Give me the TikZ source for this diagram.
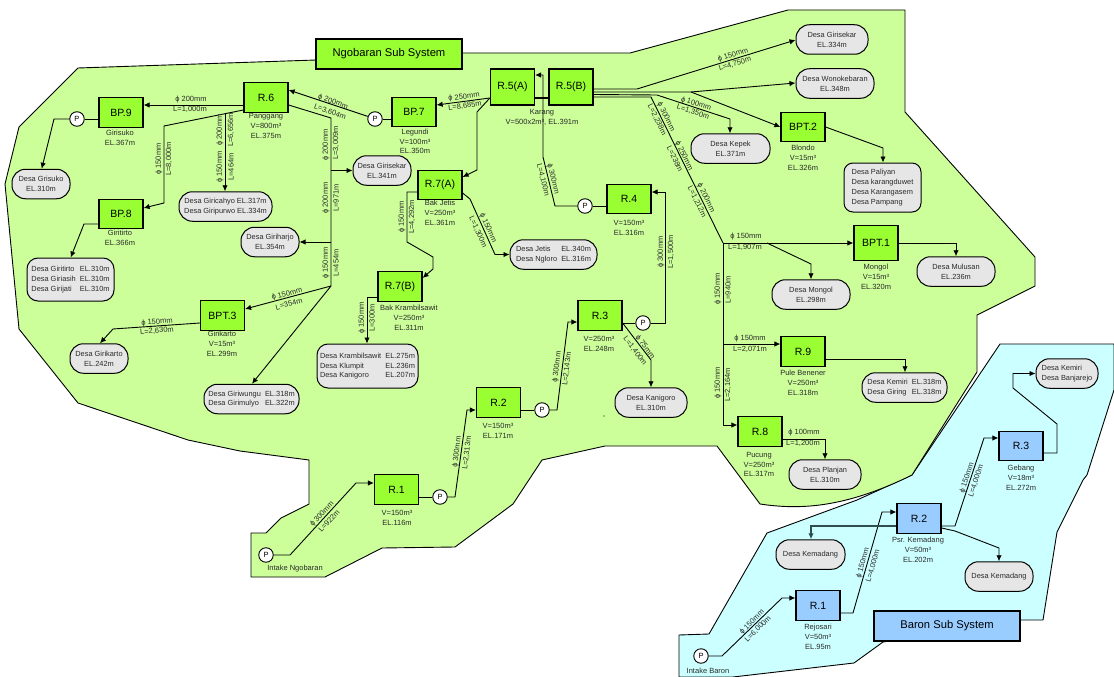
\documentclass[tikz,border=0pt]{standalone}
\usepackage{fontspec}
\setmainfont{Liberation Sans}
\usetikzlibrary{arrows.meta}
\definecolor{landg}{HTML}{CCFF99}
\definecolor{landc}{HTML}{CCFFFF}
\definecolor{boxg}{HTML}{99FF33}
\definecolor{boxb}{HTML}{99CCFF}
\definecolor{villg}{HTML}{E6E6E6}
\definecolor{ink}{HTML}{2A2A2A}
\definecolor{slate}{HTML}{2F4F4F}
\tikzset{
 land/.style={draw=black,line width=0.9pt},
 res/.style={draw=black,line width=1.2pt,fill=boxg,minimum width=44pt,minimum height=29.5pt,inner sep=0pt,font=\fontsize{10.5}{12}\selectfont},
 resb/.style={res,fill=boxb},
 title/.style={draw=black,line width=2.2pt,minimum width=146pt,minimum height=30pt,inner sep=0pt,font=\fontsize{11.2}{12}\selectfont},
 vill/.style={draw=black,line width=1pt,fill=villg,rounded corners=13.5pt,minimum height=29.5pt,inner sep=0pt,align=center,text=ink,font=\fontsize{7.4}{10}\selectfont},
 pump/.style={circle,draw=black,line width=0.9pt,fill=white,minimum size=14.5pt,inner sep=0pt,font=\fontsize{7.5}{8}\selectfont},
 capt/.style={inner sep=0pt,align=center,text=ink,font=\fontsize{7.5}{9.8}\selectfont},
 lbl/.style={inner sep=0pt,text=ink,font=\fontsize{7.5}{8}\selectfont},
 pipe/.style={draw=black,line width=0.9pt},
 arr/.style={pipe,-{Latex[length=6pt,width=5.5pt]}}
}
\begin{document}
\begin{tikzpicture}[x=1pt,y=-1pt]
\useasboundingbox (0,0) rectangle (1114,677);
% land areas
\filldraw[land,fill=landc] (1000,344) -- (1114,344) -- (1114,390) -- (1087,475) -- (1083,480) -- (1057,532) -- (1043,620) -- (1020,620) -- (883,642) -- (854,663) -- (733,677) -- (679,677) -- (679,635) -- (709,634) -- (767,533) -- (857,500) -- (912,475) -- cycle;
\filldraw[land,fill=landg] (316,60) -- (78,68) -- (19,127) -- (5,184) -- (19,329) -- (78,403) -- (188,440) -- (240,451) -- (309,460) -- (309,504) -- (281,518) -- (266,533) -- (251,533) -- (251,577) -- (325,577) -- (382,548) -- (455,547) -- (513,504) -- (542,460) -- (605,446) -- (717,446) -- (760,504) .. controls (800,510) and (845,508) .. (912,475) -- (977,372) -- (977,315) -- (1035,286) -- (1035,257) -- (905,112) -- (905,10) -- (788,10) -- (630,53) -- (463,53) -- cycle;
\fill (604,416) circle (0.6pt);
% titles
\node[title,fill=boxg] (tng) at (389,54) {Ngobaran Sub System};
\node[title,fill=boxb] (tbr) at (947,626) {Baron Sub System};
% reservoirs, Ngobaran
\node[res] (bp9) at (121,112.5) {BP.9};
\node[res] (r6) at (266,97.5) {R.6};
\node[res] (bp8) at (121,214) {BP.8};
\node[res] (bp7) at (414,112) {BP.7};
\node[res,minimum height=36pt] (r5a) at (512.5,87) {R.5(A)};
\node[res,minimum height=36pt] (r5b) at (571,87) {R.5(B)};
\node[res] (r7a) at (440,185) {R.7(A)};
\node[res] (r7b) at (400,286.5) {R.7(B)};
\node[res] (r4) at (629,199) {R.4};
\node[res] (bpt2) at (803,127) {BPT.2};
\node[res,minimum height=35pt] (bpt1) at (876,243) {BPT.1};
\node[res] (r9) at (803,351.5) {R.9};
\node[res] (r8) at (760,431.5) {R.8};
\node[res] (bpt3) at (222.5,315.5) {BPT.3};
\node[res] (r3) at (600,315.5) {R.3};
\node[res] (r2) at (498.5,402.5) {R.2};
\node[res] (r1) at (396.5,489.5) {R.1};
% reservoirs, Baron
\node[resb] (br1) at (818,605.5) {R.1};
\node[resb] (br2) at (919,518.5) {R.2};
\node[resb] (br3) at (1021,446) {R.3};
% villages
\node[vill,minimum width=58pt] (vgrisuko) at (41,184) {Desa Grisuko\\EL.310m};
\node[vill,minimum width=93pt] (vgiric) at (225.5,206.5) {Desa Giricahyo EL.317m\\Desa Giripurwo EL.334m};
\node[vill,minimum width=58pt] (vgiriharjo) at (270,242) {Desa Giriharjo\\EL.354m};
\node[vill,minimum width=58pt] (vgirisekar) at (382,170.5) {Desa Girisekar\\EL.341m};
\node[vill,minimum width=87pt] (vjetis) at (553.5,254.5) {\begin{tabular}{@{}l@{\ \ }l@{}}Desa Jetis&EL.340m\\[-0.3pt]Desa Ngloro&EL.316m\end{tabular}};
\node[vill,minimum width=72pt] (vgirisekarb) at (832,39.5) {Desa Girisekar\\EL.334m};
\node[vill,minimum width=78pt] (vwono) at (835,83.5) {Desa Wonokebaran\\EL.348m};
\node[vill,minimum width=79pt] (vkepek) at (730.5,148.5) {Desa Kepek\\EL.371m};
\node[vill,minimum width=77pt,minimum height=49pt,rounded corners=9pt,align=left] (vpaliyan) at (882.5,187.5) {Desa Paliyan\\Desa karangduwet\\Desa Karangasem\\Desa Pampang};
\node[vill,minimum width=78pt] (vmulusan) at (956,271.5) {Desa Mulusan\\EL.236m};
\node[vill,minimum width=78pt] (vmongol) at (811,294.5) {Desa Mongol\\EL.298m};
\node[vill,minimum width=85pt] (vkemiri) at (904.5,387.5) {\begin{tabular}{@{}l@{\ \ }l@{}}Desa Kemiri&EL.318m\\[-0.3pt]Desa Giring&EL.318m\end{tabular}};
\node[vill,minimum width=72pt] (vplanjan) at (825,474.5) {Desa Planjan\\EL.310m};
\node[vill,minimum width=72pt] (vkanigoro) at (651,402.5) {Desa Kanigoro\\EL.310m};
\node[vill,minimum width=101pt,minimum height=44pt,rounded corners=11pt] (vkramb) at (367.5,366) {\begin{tabular}{@{}l@{\ \ }l@{}}Desa Krambilsawit&EL.275m\\[-0.3pt]Desa Klumpit&EL.236m\\[-0.3pt]Desa Kanigoro&EL.207m\end{tabular}};
\node[vill,minimum width=87pt,minimum height=43pt,rounded corners=11pt] (vgiritirto) at (70.5,279.5) {\begin{tabular}{@{}l@{\ \ }l@{}}Desa Giritirto&EL.310m\\[-0.3pt]Desa Giriasih&EL.310m\\[-0.3pt]Desa Girijati&EL.310m\end{tabular}};
\node[vill,minimum width=58pt] (vgirikarto) at (99,358.5) {Desa Girikarto\\EL.242m};
\node[vill,minimum width=95pt] (vgiriwungu) at (251.5,399) {\begin{tabular}{@{}l@{\ \ }l@{}}Desa Giriwungu&EL.318m\\[-0.3pt]Desa Girimulyo&EL.322m\end{tabular}};
\node[vill,minimum width=69pt] (vkema) at (810.5,554.5) {Desa Kemadang};
\node[vill,minimum width=68pt] (vkemb) at (999,576.5) {Desa Kemadang};
\node[vill,minimum width=62pt,align=left] (vbanj) at (1067,373.5) {Desa Kemiri\\Desa Banjarejo};
% pumps
\node[pump] (p9) at (77,119) {P};
\node[pump] (p7) at (375,119) {P};
\node[pump] (p4) at (585,206) {P};
\node[pump] (p3) at (643,323) {P};
\node[pump] (p2) at (542,410) {P};
\node[pump] (p1) at (440,497) {P};
\node[pump] (pin) at (266,555) {P};
\node[pump] (pbr) at (701,656) {P};
% captions
\node[capt] (c1) at (266,126) {Panggang\\V=800m³\\EL.375m};
\node[capt] (c2) at (120,138) {Girisuko\\EL.367m};
\node[capt] (c3) at (120,238) {Giritirto\\EL.366m};
\node[capt] (c4) at (415,141.5) {Legundi\\V=100m³\\EL.350m};
\node[capt] (c5) at (542,117) {Karang\\V=500x2m³, EL.391m};
\node[capt] (c6) at (440,213) {Bak Jetis\\V=250m³\\EL.361m};
\node[capt] (c7) at (409,318) {Bak Krambilsawit\\V=250m³\\EL.311m};
\node[capt] (c8) at (629,228) {V=150m³\\EL.316m};
\node[capt] (c9) at (599,344) {V=250m³\\EL.248m};
\node[capt] (c10) at (498,431) {V=150m³\\EL.171m};
\node[capt] (c11) at (397,518) {V=150m³\\EL.116m};
\node[capt] (c12) at (222,344) {Girikarto\\V=15m³\\EL.299m};
\node[capt] (c13) at (803,158) {Blondo\\V=15m³\\EL.326m};
\node[capt] (c14) at (876,277) {Mongol\\V=15m³\\EL.320m};
\node[capt] (c15) at (803,383) {Pule Benener\\V=250m³\\EL.318m};
\node[capt] (c16) at (759,464.5) {Pucung\\V=250m³\\EL.317m};
\node[capt] (c17) at (295,569) {Intake Ngobaran};
\node[capt] (c18) at (818,637) {Rejosari\\V=50m³\\EL.95m};
\node[capt] (c19) at (918,550) {Psr. Kemadang\\V=50m³\\EL.202m};
\node[capt] (c20) at (1021,478) {Gebang\\V=18m³\\EL.272m};
\node[capt] (c21) at (708,671) {Intake Baron};
% connectors, west part
\draw[arr] (r6.west|-0,105) -- (bp9.east|-0,105);
\draw[pipe] (bp9.west|-p9) -- (p9.east);
\draw[arr] (p9.west) -- (54,119) -- (vgrisuko.north-|41.7,0);
\draw[arr] (r6.west|-0,110) -- (164,126) -- (164,203) -- (bp8.east|-0,208);
\draw[arr] (r6.south-|225,0) -- (vgiric.north-|225,0);
\draw[arr] (bp8.west|-0,224) -- (84,224) -- (vgiritirto.north-|70.7,0);
\draw[pipe] (r6.east|-0,105) -- (331,118) -- (331,286);
\draw[arr] (331,170.5) -- (vgirisekar.west);
\draw[arr] (331,242) -- (vgiriharjo.east);
\draw[arr] (331,286) -- (bpt3.east|-0,309);
\draw[arr] (331,286) -- (vgiriwungu.north-|252,0);
\draw[arr] (bpt3.west|-0,323) -- (113,329) -- (vgirikarto.north-|100,0);
\draw[pipe] (bp7.west|-p7) -- (p7.east);
\draw[arr] (p7.160) -- (r6.east|-0,90);
\draw[arr] (r5a.west|-0,98) -- (bp7.east|-0,105);
\draw[arr] (r5a.west|-0,98) -- (477,112) -- (477,170) -- (r7a.east|-0,177);
\draw[arr] (r7a.west|-0,192) -- (407,192) -- (407,242) -- (433,257) -- (433,269) -- (r7b.east|-0,278);
\draw[arr] (r7a.east|-0,193) -- (470,199) -- (495,254.5) -- (vjetis.west);
\draw[arr] (r7b.west|-0,297) -- (367,297) -- (vkramb.north-|367,0);
% connectors, centre
\draw[pipe,line width=2.4pt] (r5a.east|-0,98) -- (r5b.west|-0,98);
\draw[pipe] (r4.west|-p4) -- (p4.east);
\draw[arr] (p4.west) -- (555,206) -- (543,157) -- (543,75) -- (r5a.east|-0,75);
\draw[arr] (r5b.east|-0,89) -- (637,89) -- (vgirisekarb.west|-0,40);
\draw[arr] (r5b.east|-0,92) -- (691,92) -- (vwono.west|-0,83);
\draw[arr] (691,92) -- (bpt2.west|-0,127);
\draw[arr] (r5b.east|-0,94.5) -- (657,95) -- (730,119) -- (vkepek.north-|730,0);
\draw[pipe] (r5b.east|-0,97) -- (651,97) -- (723,243);
\draw[arr] (723,243) -- (bpt1.west);
\draw[arr] (767,243) -- (811,264) -- (vmongol.north-|811,0);
\draw[arr] (723,243) -- (723,425) -- (r8.west|-0,425);
\draw[arr] (723,344) -- (r9.west|-0,344);
\draw[arr] (r9.east|-0,359) -- (905,359) -- (vkemiri.north-|905,0);
\draw[arr] (r8.east|-0,439) -- (825,439) -- (vplanjan.north-|825,0);
\draw[arr] (bpt1.east) -- (956,243) -- (vmulusan.north-|956,0);
\draw[arr] (bpt2.east) -- (883,148) -- (vpaliyan.north-|883,0);
\draw[pipe] (r3.east|-p3) -- (p3.west);
\draw[arr] (p3.east) -- (665,323) -- (665,192) -- (r4.east|-0,192);
\draw[arr] (r3.east|-0,323) -- (651,360) -- (vkanigoro.north-|651,0);
\draw[pipe] (r2.east|-p2) -- (p2.west);
\draw[arr] (p2.east) -- (557,410) -- (568,322) -- (r3.west|-0,322);
\draw[pipe] (r1.east|-p1) -- (p1.west);
\draw[arr] (p1.east) -- (455,497) -- (467,410) -- (r2.west|-0,410);
\draw[arr] (pin.east) -- (290,555) -- (356,483) -- (r1.west|-0,483);
% connectors, Baron
\draw[arr] (pbr.east) -- (722,656) -- (782,598) -- (br1.west|-0,598);
\draw[arr] (br1.east|-0,613) -- (853,613) -- (882,512) -- (br2.west|-0,512);
\draw[arr] (br2.east|-0,526) -- (955,526) -- (984,438) -- (br3.west|-0,438);
\draw[arr,draw=slate,line width=1.1pt] (br2.west|-0,526) -- (811,526) -- (vkema.north-|811,0);
\draw[arr] (br2.east|-0,528) -- (955,531) -- (999,548) -- (vkemb.north);
\draw[arr] (br3.east|-0,453) -- (1057,453) -- (1057,424) -- (1013,388) -- (1013,373.5) -- (vbanj.west);
% pipe labels
\node[lbl] (l1) at (191,100) {ϕ 200mm};
\node[lbl] (l2) at (190,109.5) {L=1,000m};
\node[lbl,rotate=90] (l3) at (159,159) {ϕ 150mm};
\node[lbl,rotate=90] (l4) at (169,159) {L=8,000m};
\node[lbl,rotate=90] (l5) at (220,130) {ϕ 200mm};
\node[lbl,rotate=90] (l6) at (231,130) {L=6,656m};
\node[lbl,rotate=90] (l7) at (220,167) {ϕ 150mm};
\node[lbl,rotate=90] (l8) at (231,167) {L=464m};
\node[lbl,rotate=90] (l9) at (326,145) {ϕ 200mm};
\node[lbl,rotate=90] (l10) at (336,143) {L=3,009m};
\node[lbl,rotate=90] (l11) at (326,198) {ϕ 200mm};
\node[lbl,rotate=90] (l12) at (336,198) {L=971m};
\node[lbl,rotate=90] (l13) at (326,263) {ϕ 150mm};
\node[lbl,rotate=90] (l14) at (336,263) {L=454m};
\node[lbl,rotate=-20] (l15) at (333,102) {ϕ 200mm};
\node[lbl,rotate=-20] (l16) at (330,112) {L=3,604m};
\node[lbl,rotate=7] (l17) at (464,97) {ϕ 250mm};
\node[lbl,rotate=7] (l18) at (465,106) {L=8,685m};
\node[lbl,rotate=90] (l19) at (402,217) {ϕ 150mm};
\node[lbl,rotate=90] (l20) at (412,217) {L=4,292m};
\node[lbl,rotate=-66] (l21) at (488,228) {ϕ 150mm};
\node[lbl,rotate=-66] (l22) at (478,232) {L=1,300m};
\node[lbl,rotate=-76] (l23) at (553,179) {ϕ 300mm};
\node[lbl,rotate=-76] (l24) at (543,180) {L=4,100m};
\node[lbl,rotate=17] (l25) at (733,55) {ϕ 150mm};
\node[lbl,rotate=17] (l26) at (735,64) {L=4,750m};
\node[lbl,rotate=-18] (l27) at (696,104) {ϕ 100mm};
\node[lbl,rotate=-18] (l28) at (693,112) {L=1,350m};
\node[lbl,rotate=-64] (l29) at (666,117) {ϕ 300mm};
\node[lbl,rotate=-64] (l30) at (657,120) {L=2,238m};
\node[lbl,rotate=-64] (l31) at (684,156) {ϕ 250mm};
\node[lbl,rotate=-64] (l32) at (675,159) {L=238m};
\node[lbl,rotate=-64] (l33) at (706,198) {ϕ 200mm};
\node[lbl,rotate=-64] (l34) at (697,202) {L=1,212m};
\node[lbl] (l35) at (746,237) {ϕ 150mm};
\node[lbl] (l36) at (745,247) {L=1,907m};
\node[lbl,rotate=90] (l37) at (718,289) {ϕ 150mm};
\node[lbl,rotate=90] (l38) at (728,290) {L=940m};
\node[lbl] (l39) at (750,339) {ϕ 150mm};
\node[lbl] (l40) at (750,349) {L=2,071m};
\node[lbl,rotate=90] (l41) at (718,383) {ϕ 150mm};
\node[lbl,rotate=90] (l42) at (728,385) {L=2,164m};
\node[lbl] (l43) at (804,433) {ϕ 100mm};
\node[lbl] (l44) at (803,443) {L=1,200m};
\node[lbl,rotate=90] (l45) at (661,252) {ϕ 300mm};
\node[lbl,rotate=90] (l46) at (671,252) {L=1,500m};
\node[lbl,rotate=-53] (l47) at (645,347) {ϕ 75mm};
\node[lbl,rotate=-53] (l48) at (635,351) {L=1,400m};
\node[lbl,rotate=83] (l49) at (557,367) {ϕ 300mm};
\node[lbl,rotate=83] (l50) at (567,369) {L=2,143m};
\node[lbl,rotate=83] (l51) at (457,452) {ϕ 300mm};
\node[lbl,rotate=83] (l52) at (467,453) {L=2,313m};
\node[lbl,rotate=47] (l53) at (322,514) {ϕ 300mm};
\node[lbl,rotate=47] (l54) at (329,521) {L=922m};
\node[lbl,rotate=5] (l55) at (157,322) {ϕ 150mm};
\node[lbl,rotate=5] (l56) at (157,331) {L=2,630m};
\node[lbl,rotate=15] (l57) at (287,294) {ϕ 150mm};
\node[lbl,rotate=15] (l58) at (289,304) {L=354m};
\node[lbl,rotate=90] (l59) at (362,318) {ϕ 150mm};
\node[lbl,rotate=90] (l60) at (372,318) {L=300m};
\node[lbl,rotate=45] (l61) at (752,622) {ϕ 150mm};
\node[lbl,rotate=45] (l62) at (758,629) {L=6,000m};
\node[lbl,rotate=74] (l63) at (863,563) {ϕ 150mm};
\node[lbl,rotate=74] (l64) at (873,566) {L=4,000m};
\node[lbl,rotate=72] (l65) at (967,478) {ϕ 150mm};
\node[lbl,rotate=72] (l66) at (976,481) {L=4,000m};
\end{tikzpicture}
\end{document}
